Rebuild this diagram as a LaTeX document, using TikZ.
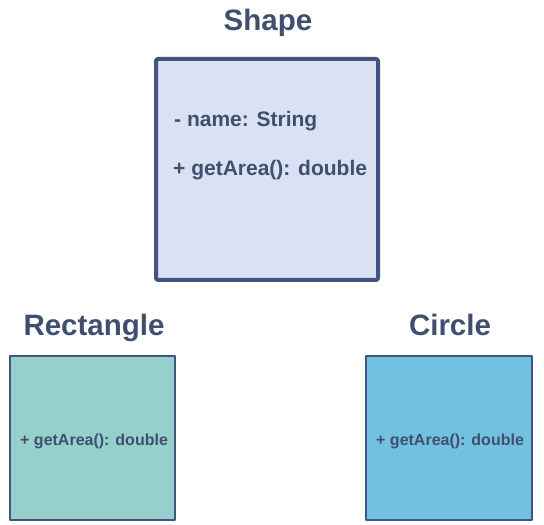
\documentclass[tikz,border=0pt]{standalone}
\usepackage{fontspec}
\setmainfont{Liberation Sans}
\definecolor{ink}{HTML}{3F4F70}
\definecolor{edge}{HTML}{435480}
\definecolor{shapefill}{HTML}{DAE1F3}
\definecolor{rectfill}{HTML}{96D0CD}
\definecolor{circfill}{HTML}{72C1E1}
\begin{document}
\begin{tikzpicture}[x=1pt,y=1pt,
  classbox/.style={draw=edge, line join=round, inner sep=0, outer sep=0},
  title/.style={font=\bfseries\fontsize{29.5}{32}\selectfont, text=ink, inner sep=0, anchor=base},
  member/.style={font=\bfseries\fontsize{#1}{#1}\selectfont, text=ink, inner sep=0, anchor=base west},
]
\useasboundingbox (0,0) rectangle (544,525);
% Shape
\node[classbox, line width=4pt, fill=shapefill, rounded corners=2pt, minimum width=222pt, minimum height=221pt] (shape) at (267,355.5) {};
\node[title] (shapetitle) at (268,494) {Shape};
\node[member=21] (shapename) at (174,398) {- name: String};
\node[member=21] (shapearea) at (173,349) {+ getArea(): double};
% Rectangle
\node[classbox, line width=2pt, fill=rectfill, minimum width=165pt, minimum height=164pt] (rect) at (92.5,87) {};
\node[title] (recttitle) at (94,189) {Rectangle};
\node[member=16] (rectarea) at (20,79) {+ getArea(): double};
% Circle
\node[classbox, line width=2pt, fill=circfill, minimum width=166pt, minimum height=164pt] (circ) at (449,87) {};
\node[title] (circtitle) at (450,189) {Circle};
\node[member=16] (circarea) at (376,79) {+ getArea(): double};
\end{tikzpicture}
\end{document}
